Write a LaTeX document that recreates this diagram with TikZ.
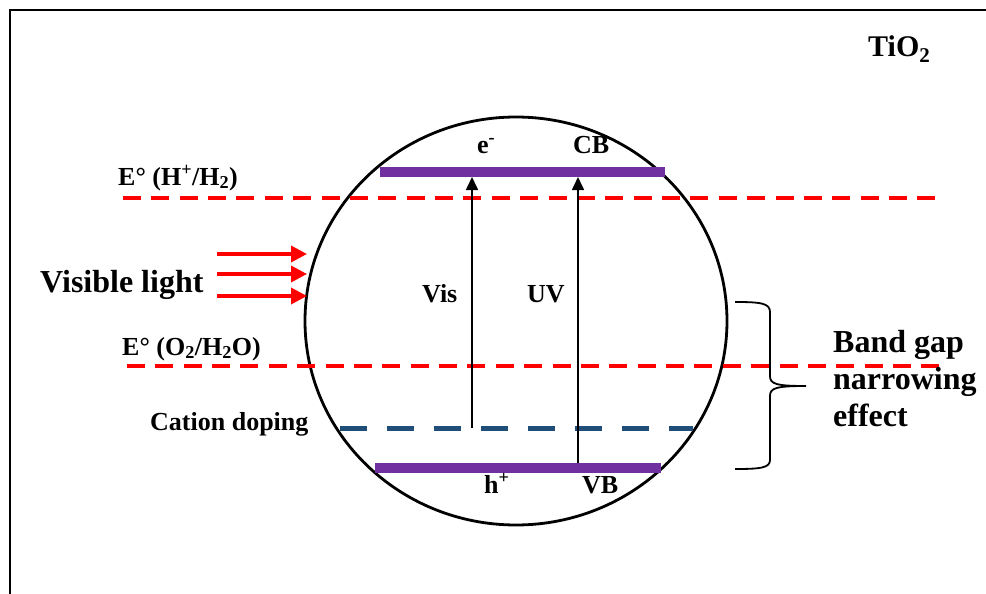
\documentclass[tikz,border=0pt]{standalone}
\usepackage{fontspec}
\setmainfont{Liberation Serif}
\usetikzlibrary{arrows.meta,shapes.geometric}
\definecolor{band}{HTML}{7030A0}
\definecolor{redox}{HTML}{FF0000}
\definecolor{dope}{HTML}{1F4E79}

\begin{document}
\begin{tikzpicture}[x=1pt,y=-1pt,
  lab/.style={font=\fontsize{26}{30}\selectfont\bfseries,inner sep=0,anchor=base west},
  big/.style={font=\fontsize{32}{37}\selectfont\bfseries,inner sep=0,anchor=base west},
  lvl/.style={redox,line width=3.5pt,dash pattern=on 18pt off 10.37pt},
  bar/.style={band,line width=10pt},
  ex/.style={-{Triangle[length=13pt,width=12pt]},line width=1.6pt},
  ray/.style={redox,line width=3.5pt,-{Triangle[length=16pt,width=16pt]}}]
\useasboundingbox (0,0) rectangle (986,594);
\draw[line width=2pt] (10,594) -- (10,10) -- (986,10);
\node[draw,ellipse,line width=2.8pt,minimum width=422pt,minimum height=408pt,inner sep=0] (dot) at (516,321) {};
\coordinate (hl) at (123,198);
\coordinate (hr) at (935,198);
\coordinate (ol) at (127,366);
\coordinate (or) at (940,366);
\coordinate (dl) at (340,428);
\coordinate (dr) at (693,428);
\coordinate (cbl) at (380,172);
\coordinate (cbr) at (665,172);
\coordinate (vbl) at (375,468);
\coordinate (vbr) at (661,468);
\draw[lvl] (hl) -- (hr);
\draw[lvl] (ol) -- (or);
\draw[dope,line width=5pt,dash pattern=on 27pt off 20pt] (dl) -- (dr);
\draw[bar] (cbl) -- (cbr);
\draw[bar] (vbl) -- (vbr);
\coordinate (vis0) at (472,428);
\coordinate (vis1) at (472,177);
\coordinate (uv0) at (578,463);
\coordinate (uv1) at (578,177);
\draw[ex] (vis0) -- (vis1);
\draw[ex] (uv0) -- (uv1);
\foreach \y [count=\i] in {254,274,296}{
  \coordinate (r\i) at (217,\y);
  \coordinate (t\i) at (307,\y);
  \draw[ray] (r\i) -- (t\i);
}
\draw[line width=1.8pt] (735,302) .. controls (760,302) and (770,303) .. (770,312) -- (770,376)
  .. controls (770,384) and (776,386) .. (806,386)
  .. controls (776,386) and (770,388) .. (770,396) -- (770,460)
  .. controls (770,468) and (760,469) .. (735,469);
\node[lab,font=\fontsize{30}{34}\selectfont\bfseries] (tio) at (868,57) {TiO\textsubscript{2}};
\node[lab] (hh) at (118,185) {E° (H\textsuperscript{+}/H\textsubscript{2})};
\node[lab] (oo) at (122,355) {E° (O\textsubscript{2}/H\textsubscript{2}O)};
\node[big] (vl) at (40,292) {Visible light};
\node[lab] (cd) at (150,430) {Cation doping};
\node[lab] (el) at (477,153) {e\textsuperscript{-}};
\node[lab] (cb) at (573,153) {CB};
\node[lab] (vis) at (422,302) {Vis};
\node[lab] (uv) at (527,302) {UV};
\node[lab] (ho) at (484,493) {h\textsuperscript{+}};
\node[lab] (vb) at (582,493) {VB};
\node[big] (g1) at (833,352) {Band gap};
\node[big] (g2) at (833,389) {narrowing};
\node[big] (g3) at (833,426) {effect};
\end{tikzpicture}
\end{document}
